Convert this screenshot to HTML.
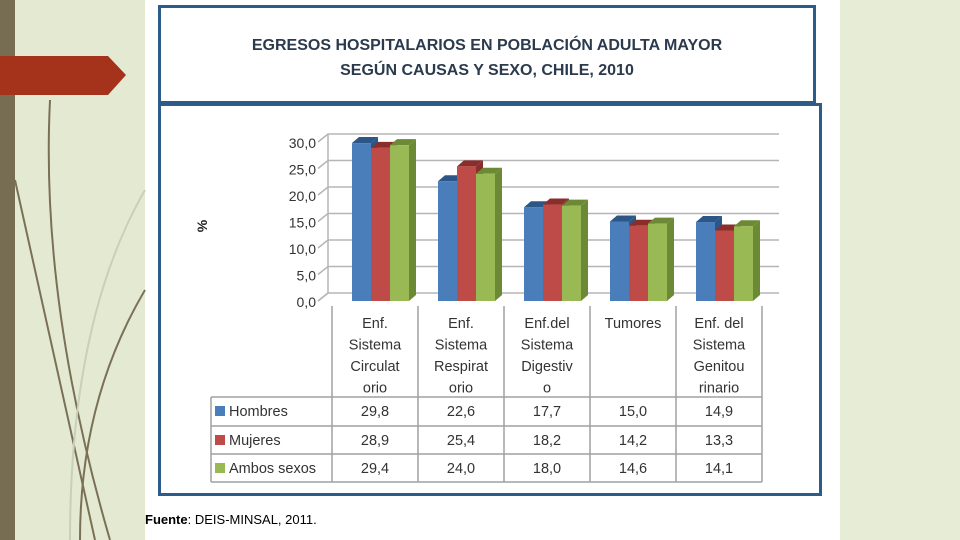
<!DOCTYPE html>
<html><head><meta charset="utf-8"><style>
body{margin:0;width:960px;height:540px;overflow:hidden;background:#fff;font-family:"Liberation Sans",sans-serif}
#bgL{position:absolute;left:0;top:0;width:145px;height:540px;background:#e4ead2}
#bgR{position:absolute;left:840px;top:0;width:120px;height:540px;background:#e6ecd6}
#stripe{position:absolute;left:0;top:0;width:15px;height:540px;background:#766d53}
</style></head><body>
<div id="bgL"></div>
<div id="bgR"></div>
<div id="stripe"></div>
<svg width="960" height="540" style="position:absolute;left:0;top:0" id="svg">
<g fill="none" stroke="#7a7056" stroke-width="2">
<path d="M50 100 Q40 300 110 540"/><path d="M15 180 Q60 380 95 540"/><path d="M145 290 Q80 400 80 540"/>
<path d="M145 190 Q70 320 70 540" stroke="#c9cfb8"/></g>
<polygon points="0,56 108,56 126,75 108,95 0,95" fill="#a5321a"/>
<rect x="159.5" y="6.5" width="655" height="96" fill="#fff" stroke="#2d5c8a" stroke-width="3"/>
<text x="487" y="50" text-anchor="middle" font-size="16" font-weight="bold" fill="#2b3a4d">EGRESOS HOSPITALARIOS EN POBLACIÓN ADULTA MAYOR</text>
<text x="487" y="75" text-anchor="middle" font-size="16" font-weight="bold" fill="#2b3a4d">SEGÚN CAUSAS Y SEXO, CHILE, 2010</text>
<rect x="159.5" y="104.5" width="661" height="390" fill="#fff" stroke="#2d5c8a" stroke-width="3"/>
<g id="grid"></g><g id="bars"></g><g id="table"></g>
<text transform="translate(207,226) rotate(-90)" text-anchor="middle" font-size="14" font-weight="bold" fill="#222">%</text>
<text x="145" y="524" font-size="13" fill="#000"><tspan font-weight="bold">Fuente</tspan>: DEIS-MINSAL, 2011.</text>
</svg>
<script>
const categories=[["Enf.","Sistema","Circulat","orio"],["Enf.","Sistema","Respirat","orio"],["Enf.del","Sistema","Digestiv","o"],["Tumores"],["Enf. del","Sistema","Genitou","rinario"]];
const seriesNames=["Hombres","Mujeres","Ambos sexos"];
const hombres=[29.8,22.6,17.7,15.0,14.9];
const mujeres=[28.9,25.4,18.2,14.2,13.3];
const ambos=[29.4,24.0,18.0,14.6,14.1];
const ticks=[0,5,10,15,20,25,30];
const series=[hombres,mujeres,ambos];
const colors=["#4a7ebb","#be4b48","#98b954"];
const dark=["#2c5687","#8a2e2c","#6c8a35"];
const NS="http://www.w3.org/2000/svg";
function mk(p,t,a){const e=document.createElementNS(NS,t);for(const k in a)e.setAttribute(k,a[k]);p.appendChild(e);return e;}
const y0=301,scale=5.3,dx=10,dy=8,colL=332,colW=86;
const ys=v=>y0-v*scale;
const xc=i=>colL+i*colW;
const grid=document.getElementById('grid');
ticks.forEach(t=>{
 const l=mk(grid,'polyline',{points:`${colL-14},${ys(t)} ${colL-4},${ys(t)-dy} ${xc(5)+17},${ys(t)-dy}`,fill:'none',stroke:'#b5b5b5','stroke-width':1.5});
 
 
 const tx=mk(grid,'text',{x:316,y:ys(t)+6,'text-anchor':'end','font-size':14,fill:'#333'});
 tx.textContent=t.toFixed(1).replace('.',',');
 
 
});
const ax=mk(grid,'polyline',{points:`${colL-4},${ys(30)-dy} ${colL-4},${ys(0)-dy} ${colL-14},${ys(0)}`,fill:'none',stroke:'#b5b5b5','stroke-width':1.5});


const bars=document.getElementById('bars');
const bw=19;
categories.forEach((c,i)=>{series.forEach((s,j)=>{
 const x=xc(i)+20+j*bw, top=ys(s[i]), g=mk(bars,'g',{});
 
 
 mk(g,'polygon',{points:`${x+bw},${top} ${x+bw+7},${top-6} ${x+bw+7},${y0-6} ${x+bw},${y0}`,fill:dark[j]});
 mk(g,'polygon',{points:`${x},${top} ${x+7},${top-6} ${x+bw+7},${top-6} ${x+bw},${top}`,fill:dark[j]});
 mk(g,'rect',{x:x,y:top,width:bw,height:y0-top,fill:colors[j]});
});});
const tb=document.getElementById('table');
const tl=211,hTop=306,rows=[397,426,454,482];
const ln=(a,b,c,d,n)=>{const e=mk(tb,'line',{x1:a,y1:b,x2:c,y2:d,stroke:'#a0a0a0','stroke-width':1.5});};
for(let i=0;i<=5;i++)ln(xc(i),hTop,xc(i),rows[3],'table-col-line');
ln(tl,rows[0],tl,rows[3],'table-left-line');
rows.forEach(r=>ln(tl,r,xc(5),r,'table-row-line'));
categories.forEach((c,i)=>c.forEach((w,k)=>{
 const t=mk(tb,'text',{x:xc(i)+colW/2,y:hTop+22+k*21.5,'text-anchor':'middle','font-size':14.5,fill:'#333'});
 t.textContent=w;
 
 
}));
series.forEach((s,j)=>{
 const ry=rows[j]+19;
 const sw=mk(tb,'rect',{x:215,y:ry-10,width:10,height:10,fill:colors[j]});
 
 
 const n=mk(tb,'text',{x:229,y:ry,'font-size':14.5,fill:'#333'});
 n.textContent=seriesNames[j];
 
 
 s.forEach((v,i)=>{
  const t=mk(tb,'text',{x:xc(i)+colW/2,y:ry,'text-anchor':'middle','font-size':14.5,fill:'#333'});
  t.textContent=v.toFixed(1).replace('.',',');
  
  
 });
});
</script>
</body></html>
